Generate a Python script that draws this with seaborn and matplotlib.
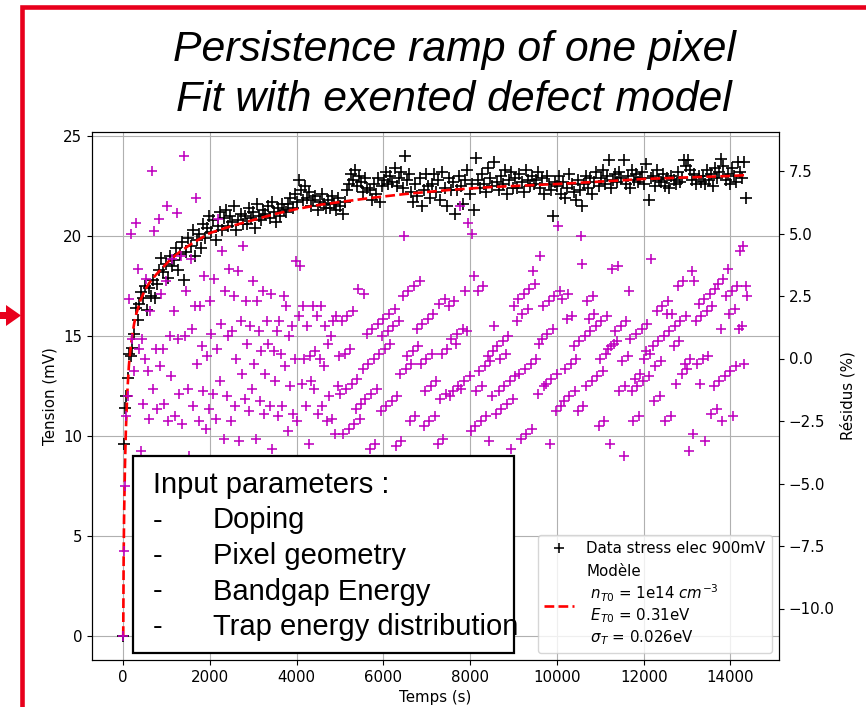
import numpy as np
import pandas as pd
import matplotlib
matplotlib.use("Agg")
import matplotlib.pyplot as plt
from matplotlib.lines import Line2D
from matplotlib.patches import Rectangle, Polygon
import seaborn as sns

# ---------------- texts ----------------
TITLE_LINES = ["Persistence ramp of one pixel", "Fit with exented defect model"]
BOX_HEADER = "Input parameters :"
BOX_ITEMS = ["Doping", "Pixel geometry", "Bandgap Energy", "Trap energy distribution"]
X_LABEL = "Temps (s)"
Y_LABEL = "Tension (mV)"
Y2_LABEL = "Résidus (%)"
DATA_LABEL = "Data stress elec 900mV"
MODEL_LABEL = "Modèle\n $n_{T0}$ = 1e14 $cm^{-3}$\n $E_{T0}$ = 0.31eV\n $\\sigma_T$ = 0.026eV"

# ---------------- data ----------------
# acquisition times: first samples, then regular sampling
EARLY_TIMES_S = [0, 15, 45, 75, 105, 140, 175, 210, 250, 290, 330, 370]
SAMPLE_START_S = 400
SAMPLE_END_S = 14400
DATA_STEP_S = 48
RESIDU_STEP_S = 32

TENSION_MV = [
    0.0, 9.6, 11.4, 12.0, 12.9, 14.1, 14.0, 14.4, 15.1, 16.4, 15.8, 16.6,
    17.2, 16.9, 17.5, 16.3, 17.4, 17.0, 17.8, 16.9, 17.6, 18.3,
    18.9, 18.2, 18.6, 17.9, 19.0, 18.5, 18.8, 19.4, 18.3, 19.1,
    19.7, 17.8, 19.2, 19.9, 19.5, 20.3, 19.0, 19.8, 20.1, 19.4,
    20.6, 19.9, 20.4, 21.0, 20.2, 20.8, 19.8, 20.5, 21.2, 20.3,
    20.9, 21.3, 20.5, 21.0, 20.7, 21.5, 20.3, 20.8, 21.1, 20.6,
    21.0, 20.6, 21.4, 20.9, 21.2, 20.4, 21.6, 21.0, 20.8, 21.3,
    21.1, 21.5, 20.9, 21.7, 21.2, 20.7, 21.4, 21.0, 21.6, 21.3,
    21.2, 21.6, 21.9, 21.4, 22.1, 21.7, 22.8, 22.3, 21.8, 22.5,
    21.9, 22.2, 21.5, 21.8, 22.0, 21.3, 21.7, 22.1, 21.6, 21.4,
    21.8, 21.4, 22.0, 21.6, 21.3, 21.9, 21.5, 21.1, 21.7, 22.3,
    22.6, 23.1, 22.8, 23.3, 22.5, 23.0, 22.7, 22.2, 22.9, 22.4,
    22.3, 21.8, 22.6, 22.1, 22.9, 21.7, 22.5, 22.8, 23.2, 22.6,
    23.0, 22.7, 23.4, 22.5, 22.9, 23.2, 22.4, 24.0, 22.8, 23.1,
    22.2, 21.7, 22.6, 22.0, 22.9, 21.5, 22.3, 23.1, 22.5, 21.9,
    22.6, 23.1, 22.2, 22.8, 21.8, 23.2, 22.4, 21.5, 22.9, 22.3,
    22.7, 21.1, 22.3, 23.0, 22.5, 21.6, 22.8, 23.3, 22.1, 22.6,
    21.3, 23.9, 22.8, 22.4, 23.1, 22.6, 22.2, 23.4, 22.9, 22.5,
    23.7, 22.7, 22.3, 23.0, 22.6, 23.3, 22.1, 22.8, 23.2, 22.4,
    22.9, 22.4, 23.1, 22.7, 22.2, 23.3, 22.8, 22.5, 23.0, 22.6,
    22.8, 23.2, 22.4, 22.9, 22.1, 23.0, 22.6, 22.3, 21.0, 22.7,
    22.5, 23.0, 22.1, 22.7, 21.9, 22.4, 23.1, 22.6, 22.2, 21.8,
    22.8, 22.3, 21.5, 22.6, 23.0, 22.4, 22.9, 22.1, 22.7, 23.2,
    22.5, 22.9, 23.3, 22.6, 23.0, 23.8, 22.4, 22.8, 23.1, 22.7,
    23.2, 22.9, 23.8, 22.6, 23.0, 22.4, 23.3, 22.8, 23.1, 22.7,
    22.9, 23.2, 22.6, 23.6, 21.8, 22.9, 23.0, 22.5, 23.3, 22.8,
    22.7, 23.1, 22.5, 22.9, 22.4, 23.0, 22.8, 22.6, 23.2, 22.7,
    22.9, 23.8, 23.5, 23.8, 23.3, 22.8, 23.1, 22.6, 23.0, 22.7,
    23.0, 22.6, 23.3, 22.8, 23.1, 22.5, 23.4, 22.9, 23.2, 23.85,
    23.5, 22.8, 23.1, 22.6, 23.4, 23.0, 22.7, 23.7, 23.2, 22.9,
    23.7, 21.9,
]

RESIDU_PCT = [
    -11.1, -7.7, -5.1, -2.3, -1.5, 2.4, 5.0, 0.8, -0.5, 5.4, 3.6, 0.4,
    -3.7, 0.8, -1.8, 0.0, 3.2, -0.5, -2.4, 1.9, 7.5, -1.2, 5.1, 0.4, -2.0, 5.6, -0.3, 2.6,
    0.4, -1.8, 3.1, 6.1, -2.5, 0.9, -0.7, 4.0, 1.9, -2.3, 5.8, 0.8, -1.4, 4.1, -2.6, 8.1,
    0.9, 2.7, -1.2, -3.9, 4.0, 1.2, -1.9, 2.1, 6.4, -0.2, -2.5, 2.1, 0.5, -1.3, 3.3, -2.8,
    0.1, -2.0, 2.3, 1.0, -1.4, 3.2, -2.4, 0.4, 5.6, -0.9, 1.4, 4.3, -3.2, 2.7, -1.5, 0.9,
    3.6, -2.5, 1.1, 2.5, -1.9, 0.0, 3.5, -3.3, 1.5, -0.6, 4.5, -1.6, 2.3, 0.6, -2.1, 1.3,
    -1.2, 3.1, -0.2, -3.2, 2.3, 1.1, -1.7, 0.3, 2.7, -2.2, -0.6, 1.5, 0.6, -1.9, 2.6, -3.6,
    0.3, -0.9, 1.1, -2.3, 1.5, 0.2, -1.9, 2.5, -0.3, 2.1, -2.9, 0.9, -1.1, 1.3, -2.2, 0.0,
    3.9, -2.5, 1.7, 3.7, -1.0, 2.1, 0.0, -1.9, 1.3, -3.4, 0.1, -0.9, 2.1, -1.2, 0.3, 1.7,
    -2.2, 0.0, 2.1, -1.9, -0.3, 1.3, -2.5, 0.6, -1.5, 0.9, -2.4, 1.5, -3.0, 1.7, -1.1, 0.1,
    -1.4, 1.5, -3.0, 0.2, -1.2, 1.7, -2.8, 0.4, -1.0, 1.9, -2.6, -2.0, -0.8, 2.8, -2.4, -1.8,
    -0.4, 2.6, -1.6, 1.0, -0.2, -3.6, -1.4, 1.2, 0.0, -3.4, -1.2, 1.4, 0.2, -2.1, 0.9, 1.6,
    0.4, -1.9, 1.1, 1.8, 0.6, -1.7, 1.3, 2.0, -3.5, -1.5, 1.5, -0.6, -3.3, 2.5, 4.9, -0.4,
    0.1, 2.7, -2.5, -0.2, 0.3, 2.9, -2.3, 1.2, 0.5, 3.1, -0.2, 1.4, -2.7, -1.3, 0.0, 1.6,
    -2.5, -1.1, 0.2, 1.8, -2.3, -0.9, -3.4, 2.2, -1.6, 0.2, -3.2, 2.4, -1.4, 0.4, 2.1, -1.5,
    0.8, -1.3, 2.3, 0.6, 1.0, -1.1, 6.1, -1.2, 1.2, -0.9, 2.7, 1.1, 5.4, -0.7, -2.9, 5.0,
    3.3, -2.7, -1.3, 2.7, -0.5, -2.5, -1.1, 2.9, -0.3, -2.3, 0.1, -3.3, -0.1, -1.5, 0.3, 1.3,
    -2.2, 0.5, -1.3, 0.0, -2.0, 0.7, -1.1, 0.2, -1.8, 0.9, -0.9, -3.6, -1.6, 2.1, -0.7, 1.5,
    2.4, -0.6, -3.2, 1.8, 2.6, -0.4, -3.0, 2.0, 2.8, -0.2, -2.8, 3.5, 3.0, 0.0, -1.4, 0.6,
    4.1, 0.8, 2.1, -1.1, -1.0, 1.0, 2.3, -3.4, -0.8, 1.2, 2.5, -2.1, -0.6, 5.3, 2.7, -1.9,
    2.4, -1.7, -0.4, 1.6, 2.6, -1.5, -0.2, 1.7, 0.5, -1.3, 0.0, -2.1, 0.7, 4.9, 3.8, -1.9,
    0.9, -1.1, 2.3, 1.6, 1.1, -0.9, 2.5, 1.8, 1.3, -0.7, -2.7, 0.0, 1.5, -0.5, -2.5, 0.2,
    1.7, 0.4, -3.4, 0.5, 3.6, 0.6, 1.1, 0.7, 3.7, -1.3, 1.3, -0.1, -3.9, -1.1, 1.5, 0.1,
    2.7, 0.8, -1.3, -2.5, -0.8, 1.0, -1.1, -2.3, -0.6, 1.2, -0.9, 0.0, 0.3, 1.4, -0.7, 0.2,
    4.0, 0.5, -1.7, -0.3, 1.9, 0.7, -1.5, -0.1, 2.1, 0.9, -2.5, 1.8, 2.3, 1.1, -2.3, 1.8,
    0.5, 1.3, -1.0, 2.9, 0.7, 1.5, -0.6, 3.1, -0.2, 1.7, -0.4, -3.7, 0.0, 3.5, -3.0, 3.1,
    1.5, -0.2, 2.2, -1.0, 1.7, 0.0, 2.4, -3.3, 1.9, 0.1, 2.6, -2.2, 2.1, -1.1, 2.8, -2.0,
    3.0, -0.9, 1.2, -2.5, 3.2, -0.7, 2.5, 3.6, 1.8, -0.5, 2.7, -2.3, 2.0, -0.3, 2.9, 1.2,
    4.3, 1.3, 4.5, -0.2, 2.9, 2.5,
]

MODEL_TIME_S = [0, 10, 20, 40, 60, 80, 100, 130, 160, 200, 250, 300, 400, 500,
                600, 750, 900, 1100, 1300, 1600, 2000, 2500, 3000, 3500, 4000,
                4500, 5000, 5700, 6500, 7500, 8500, 9500, 10000, 11000, 12000,
                13000, 14000, 14400]
MODEL_MV = [0.0, 4.0, 6.0, 8.5, 10.2, 11.4, 12.4, 13.5, 14.2, 14.9, 15.6, 16.1,
            16.8, 17.3, 17.65, 18.05, 18.4, 18.85, 19.2, 19.65, 20.15, 20.5,
            20.8, 21.1, 21.35, 21.55, 21.7, 21.9, 22.1, 22.3, 22.45, 22.55,
            22.6, 22.72, 22.85, 22.93, 23.0, 23.05]

DATA_TIME_S = list(EARLY_TIMES_S) + list(np.arange(SAMPLE_START_S, SAMPLE_END_S, DATA_STEP_S))
RESIDU_TIME_S = list(EARLY_TIMES_S) + list(np.arange(SAMPLE_START_S, SAMPLE_END_S, RESIDU_STEP_S))
nd = min(len(DATA_TIME_S), len(TENSION_MV))
nr = min(len(RESIDU_TIME_S), len(RESIDU_PCT))
df = pd.DataFrame({"t": DATA_TIME_S[:nd], "v": TENSION_MV[:nd]})
dr = pd.DataFrame({"t": RESIDU_TIME_S[:nr], "r": RESIDU_PCT[:nr]})
dm = pd.DataFrame({"t": MODEL_TIME_S, "v": MODEL_MV})

# ---------------- figure ----------------
W, H = 866, 707
fig = plt.figure(figsize=(W / 100, H / 100), dpi=100)
fs = 10.8

def fx(px):
    return px / W

def fy(py):
    return 1 - py / H

ax = fig.add_axes([fx(92), fy(660), fx(779) - fx(92), fy(132) - fy(660)])
ax.grid(True, color="#b0b0b0", linewidth=0.8)
ax.set_axisbelow(True)

sns.scatterplot(data=df, x="t", y="v", marker="+", color="black", s=64,
                linewidth=1.2, ax=ax, legend=False, zorder=2)
sns.lineplot(data=dm, x="t", y="v", color="red", linestyle="--", linewidth=1.9,
             ax=ax, legend=False, zorder=3)

ax2 = ax.twinx()
sns.scatterplot(data=dr, x="t", y="r", marker="+", color="m", s=60,
                linewidth=1.15, ax=ax2, legend=False, zorder=2)

ax.set_xlabel(X_LABEL, fontsize=fs)
ax.set_ylabel(Y_LABEL, fontsize=fs)
ax2.set_ylabel(Y2_LABEL, fontsize=fs)
ax.tick_params(labelsize=fs)
ax2.tick_params(labelsize=fs)
ax.set_xticks([0, 2000, 4000, 6000, 8000, 10000, 12000, 14000])
ax.set_yticks([0, 5, 10, 15, 20, 25])
ax2.set_yticks([-10.0, -7.5, -5.0, -2.5, 0.0, 2.5, 5.0, 7.5])

handles = [Line2D([], [], marker="+", color="black", linestyle="none",
                  markersize=7.5, markeredgewidth=1.15),
           Line2D([], [], color="red", linestyle="--", linewidth=1.9)]
ax2.legend(handles, [DATA_LABEL, MODEL_LABEL], loc="lower right", fontsize=fs)

# ---------------- slide decorations ----------------
red = "#e8001c"
fig.add_artist(Rectangle((fx(21.7), -0.2), 1.5, fy(7) + 0.2, fill=False,
                         edgecolor=red, linewidth=3.3, transform=fig.transFigure,
                         clip_on=False, zorder=5))
arrow_px = [(0, 312), (6, 312), (6, 305), (21, 315.5), (6, 326), (6, 319), (0, 319)]
fig.add_artist(Polygon([(fx(x), fy(y)) for x, y in arrow_px], closed=True,
                       facecolor=red, edgecolor="none",
                       transform=fig.transFigure, zorder=5))

for text, base in zip(TITLE_LINES, [61, 111]):
    fig.text(fx(454), fy(base), text, ha="center", va="baseline",
             fontsize=30.8, style="italic", family="Liberation Sans")

fig.add_artist(Rectangle((fx(133), fy(653)), fx(514) - fx(133), fy(456) - fy(653),
                         facecolor="white", edgecolor="black", linewidth=1.6,
                         transform=fig.transFigure, zorder=6))
fig.text(fx(153), fy(493), BOX_HEADER, ha="left", va="baseline", fontsize=21,
         family="Liberation Sans", zorder=7)
for item, base in zip(BOX_ITEMS, [528.5, 564, 599.5, 635]):
    fig.text(fx(153), fy(base), "-", ha="left", va="baseline", fontsize=21,
             family="Liberation Sans", zorder=7)
    fig.text(fx(213), fy(base), item, ha="left", va="baseline", fontsize=21,
             family="Liberation Sans", zorder=7)

fig.savefig("out.png", dpi=100)
